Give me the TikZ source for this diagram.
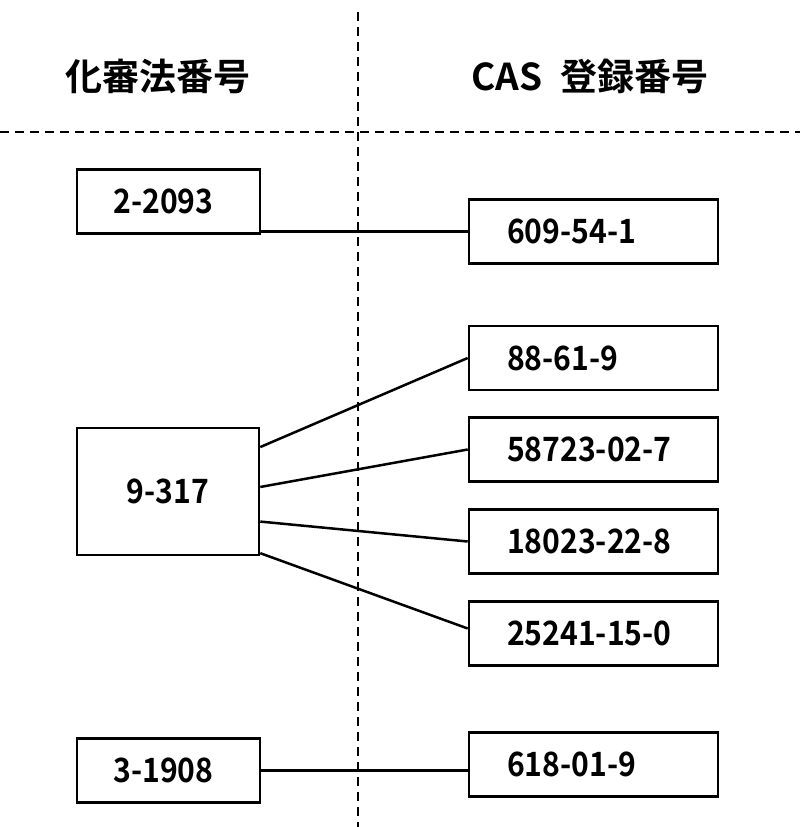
\documentclass[tikz,border=0pt]{standalone}
\usepackage{fontspec}
\usetikzlibrary{calc}
\newfontfamily\jphead[BoldFont={* Bold}]{Noto Sans CJK JP}
\newfontfamily\jpnum[FakeStretch=0.9,BoldFont={* Bold}]{Noto Sans CJK JP}
\begin{document}
\begin{tikzpicture}[x=1pt,y=-1pt,
  boxl/.style={draw, line width=2.6pt, minimum width=183pt, minimum height=64pt, inner sep=0pt,
    font=\jpnum\bfseries\fontsize{33.5}{38}\selectfont},
  boxr/.style={draw, line width=2.6pt, text width=173pt, inner xsep=38pt, inner ysep=0pt,
    minimum height=64pt, align=left, font=\jpnum\bfseries\fontsize{33.5}{38}\selectfont},
  conn/.style={line width=2.5pt},
  divider/.style={line width=1.6pt, dash pattern=on 9pt off 6pt},
  head/.style={font=\jphead\bfseries\fontsize{37}{44}\selectfont, inner sep=0pt}]
\useasboundingbox (0,0) rectangle (800,827);
% dividers
\coordinate (vtop) at (358,12);
\coordinate (vbot) at (358,827);
\coordinate (hl) at (0,132);
\coordinate (hr) at (800,132);
\draw[divider] (vtop) -- (vbot);
\draw[divider] (hl) -- (hr);
% headers
\node[head] (h1) at (158,76) {化審法番号};
\node[head] (h2) at (590,76) {CAS\hspace{10pt} 登録番号};
% left boxes
\node[boxl] (b2093) at (168.5,201.5) {\hspace*{-10pt}2-2093};
\node[boxl, minimum width=182pt, minimum height=127pt] (b9317) at (168,491.5) {9-317};
\node[boxl] (b1908) at (168.5,770.5) {\hspace*{-10pt}3-1908};
% right boxes
\node[boxr] (b609) at (593.5,231.5) {609-54-1};
\node[boxr] (b88) at (593.5,358) {88-61-9};
\node[boxr] (b58723) at (593.5,449.5) {58723-02-7};
\node[boxr] (b18023) at (593.5,541.5) {18023-22-8};
\node[boxr] (b25241) at (593.5,633.5) {25241-15-0};
\node[boxr] (b618) at (593.5,764.5) {618-01-9};
% connectors
\draw[conn] (b609.west) -- (b609.west -| b2093.east);
\draw[conn] (b1908.east) -- (b1908.east -| b618.west);
\draw[conn] ($(b9317.north east)!0.157!(b9317.south east)$) -- (b88.west);
\draw[conn] ($(b9317.north east)!0.465!(b9317.south east)$) -- (b58723.west);
\draw[conn] ($(b9317.north east)!0.732!(b9317.south east)$) -- (b18023.west);
\draw[conn] ($(b9317.north east)!0.976!(b9317.south east)$) -- ($(b25241.west)+(0,-5)$);
\end{tikzpicture}
\end{document}
